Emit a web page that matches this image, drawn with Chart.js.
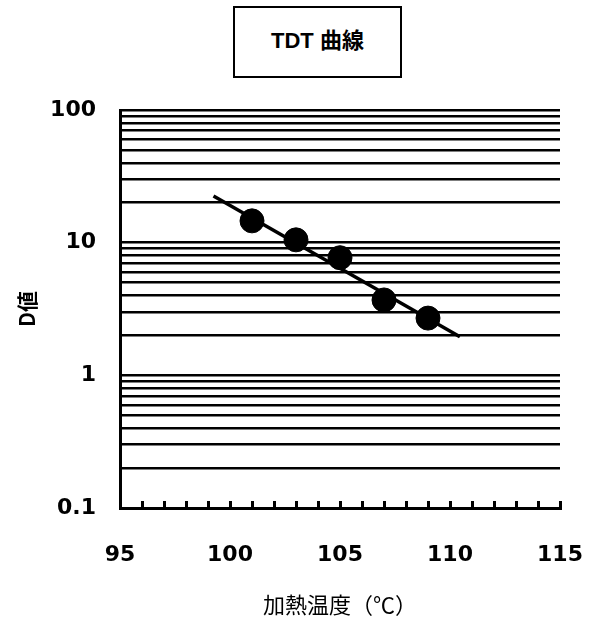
<!DOCTYPE html>
<html>
<head>
<meta charset="utf-8">
<script src="https://cdn.jsdelivr.net/npm/chart.js@4/dist/chart.umd.min.js"></script>
<style>
  html, body { margin: 0; padding: 0; background: #fff; }
  #wrap { position: relative; width: 604px; height: 622px; }
  #c { position: absolute; left: 0; top: 0; }
  #ttl {
    position: absolute; left: 233px; top: 6px; width: 169px; height: 72px;
    box-sizing: border-box; border: 2px solid #000; background: #fff;
    text-align: center; padding-top: 14px; line-height: 26px;
    font: bold 22px "Liberation Sans", "Noto Sans CJK JP", sans-serif; color: #000;
  }
</style>
</head>
<body>
<div id="wrap">
  <canvas id="c" width="604" height="622"></canvas>
  <div id="ttl">TDT 曲線</div>
</div>
<script>
// ---- data ----
const temperatures = [101, 103, 105, 107, 109];          // 加熱温度 (℃)
const dValues      = [14.6, 10.5, 7.7, 3.7, 2.7];        // D値
const trendX       = [99.25, 110.45];                    // fitted TDT line ends
const trendY       = [22.5, 1.95];
const yGridValues  = [0.1,0.2,0.3,0.4,0.5,0.6,0.7,0.8,0.9,
                      1,2,3,4,5,6,7,8,9,
                      10,20,30,40,50,60,70,80,90,100];
const yLabelValues = [0.1, 1, 10, 100];
const xLabelValues = [95, 100, 105, 110, 115];
const xTitle = '加熱温度（℃）';
const yTitle = 'D値';

const pointsData = temperatures.map((t, i) => ({ x: t, y: dValues[i] }));
const trendData  = trendX.map((t, i) => ({ x: t, y: trendY[i] }));

const tickFont = { family: '"DejaVu Sans", sans-serif', size: 22, weight: 'bold' };
const cjkFont  = '"Noto Sans CJK JP", "Liberation Sans", sans-serif';

new Chart(document.getElementById('c'), {
  type: 'scatter',
  data: {
    datasets: [
      {
        label: 'D値',
        data: pointsData,
        backgroundColor: '#000',
        borderColor: '#000',
        pointRadius: 12,
        pointHoverRadius: 12,
        showLine: false,
        order: 1
      },
      {
        label: 'trend',
        data: trendData,
        borderColor: '#000',
        borderWidth: 3.5,
        pointRadius: 0,
        showLine: true,
        fill: false,
        order: 2
      }
    ]
  },
  options: {
    responsive: false,
    animation: false,
    devicePixelRatio: 1,
    layout: { padding: { left: 0, right: 44, top: 110, bottom: 0 } },
    plugins: {
      legend: { display: false },
      title: { display: false },
      tooltip: { enabled: false }
    },
    scales: {
      x: {
        type: 'linear',
        min: 95, max: 115,
        afterFit: s => { s.height = 114; s.paddingLeft = 0; s.paddingRight = 0; },
        ticks: {
          stepSize: 1,
          autoSkip: false,
          maxRotation: 0,
          color: '#000',
          font: tickFont,
          padding: 41,
          callback: v => xLabelValues.includes(v) ? String(v) : ''
        },
        grid: {
          drawOnChartArea: false,
          drawTicks: true,
          tickLength: -7,
          color: '#000',
          lineWidth: 3
        },
        border: { display: true, color: '#000', width: 3 },
        title: {
          display: true,
          text: xTitle,
          color: '#000',
          font: { family: cjkFont, size: 22, weight: 'normal' },
          padding: { top: 0, bottom: 4 }
        }
      },
      y: {
        type: 'logarithmic',
        min: 0.1, max: 100,
        afterFit: s => { s.width = 120; },
        afterBuildTicks: s => { s.ticks = yGridValues.map(v => ({ value: v })); },
        ticks: {
          autoSkip: false,
          color: '#000',
          font: tickFont,
          padding: 24,
          callback: v => yLabelValues.includes(v) ? String(v) : ''
        },
        grid: {
          drawTicks: false,
          color: '#000',
          lineWidth: 2.5
        },
        border: { display: true, color: '#000', width: 3 },
        title: {
          display: true,
          text: yTitle,
          color: '#000',
          font: { family: cjkFont, size: 21, weight: 'bold' },
          padding: { top: 14, bottom: 0 }
        }
      }
    }
  }
});
</script>
</body>
</html>
